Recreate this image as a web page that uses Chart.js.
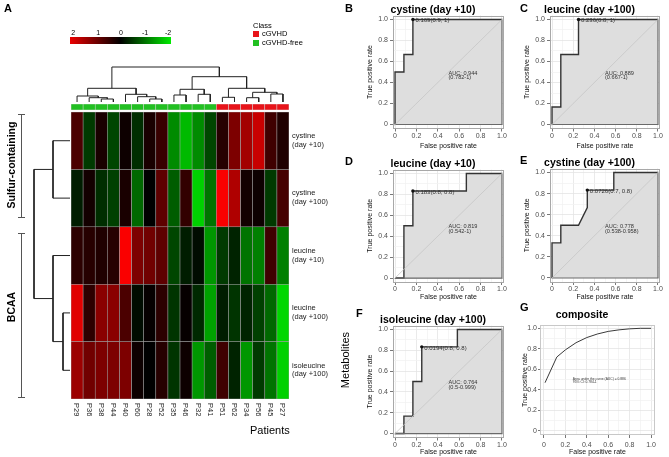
<!DOCTYPE html>
<html><head><meta charset="utf-8">
<script src="https://cdn.jsdelivr.net/npm/chart.js@4.4.1/dist/chart.umd.min.js"></script>
<style>
html,body{margin:0;padding:0;background:#fff;}
#fig{position:relative;width:669px;height:457px;overflow:hidden;font-family:'Liberation Sans',Arial,sans-serif;color:#000;background:#fff;}
#fig canvas{position:absolute;}
.t{position:absolute;white-space:nowrap;line-height:1;}
.pl{font-weight:bold;font-size:11px;}
.rot{transform:translate(-50%,-50%) rotate(-90deg);}
</style></head><body>
<div id="fig">
<canvas id="cHeat" width="669" height="457" style="left:0;top:0"></canvas>
<canvas id="cColDen" width="669" height="457" style="left:0;top:0"></canvas>
<canvas id="cRowDen" width="669" height="457" style="left:0;top:0"></canvas>
<canvas id="cB"></canvas><canvas id="cC"></canvas><canvas id="cD"></canvas>
<canvas id="cE"></canvas><canvas id="cF"></canvas><canvas id="cG"></canvas>

<div class="t pl" style="left:4px;top:3px">A</div>
<div class="t pl" style="left:345px;top:3px">B</div>
<div class="t pl" style="left:520px;top:3px">C</div>
<div class="t pl" style="left:345px;top:156px">D</div>
<div class="t pl" style="left:520px;top:155px">E</div>
<div class="t pl" style="left:356px;top:308px">F</div>
<div class="t pl" style="left:520px;top:302px">G</div>

<div id="keyBar" style="position:absolute;left:70px;top:36.5px;width:101px;height:7px;background:linear-gradient(to right,rgb(235,0,0),#000 50%,rgb(0,235,0));"></div>
<div id="keyLabels"></div>

<div class="t" style="left:253px;top:22px;font-size:7.5px;">Class</div>
<div style="position:absolute;left:253px;top:30.5px;width:6px;height:6px;background:#e8141a;"></div>
<div class="t" style="left:262px;top:30px;font-size:7.5px;">cGVHD</div>
<div style="position:absolute;left:253px;top:39.5px;width:6px;height:6px;background:#22c022;"></div>
<div class="t" style="left:262px;top:39px;font-size:7.5px;">cGVHD-free</div>

<div style="position:absolute;left:21px;top:114px;width:1px;height:104px;background:#555;"></div>
<div style="position:absolute;left:18px;top:114px;width:7px;height:1px;background:#555;"></div>
<div style="position:absolute;left:18px;top:217px;width:7px;height:1px;background:#555;"></div>
<div style="position:absolute;left:21px;top:233px;width:1px;height:165px;background:#555;"></div>
<div style="position:absolute;left:18px;top:233px;width:7px;height:1px;background:#555;"></div>
<div style="position:absolute;left:18px;top:397px;width:7px;height:1px;background:#555;"></div>
<div class="t rot" style="left:11px;top:165px;font-size:10.5px;font-weight:bold;">Sulfur-containing</div>
<div class="t rot" style="left:11px;top:307px;font-size:10.5px;font-weight:bold;">BCAA</div>
<div class="t" style="left:250px;top:425px;font-size:11px;">Patients</div>
<div class="t rot" style="left:345px;top:360px;font-size:11px;">Metabolites</div>
</div>
<script>
// ---------------- DATA ----------------
const patients = ['P29','P36','P38','P44','P40','P60','P28','P52','P35','P46','P32','P41','P51','P62','P34','P56','P45','P27'];
const patientClass = [0,0,0,0,0,0,0,0,0,0,0,0,1,1,1,1,1,1]; // 1 = cGVHD, 0 = cGVHD-free
const metaboliteNames = ['cystine','cystine','leucine','leucine','isoleucine'];
const metaboliteDays = ['(day +10)','(day +100)','(day +10)','(day +100)','(day +100)'];
const zCystineD10     = [0.6,-0.5,0.2,-0.6,0.1,-0.4,0.2,0.45,-1.2,-1.6,-1.2,-0.6,0.3,1.0,1.3,1.6,0.5,0.25];
const zCystineD100    = [-0.25,0.15,-0.4,-0.55,0.2,-0.9,0,0.75,-0.8,0.4,-1.8,-1.0,2.0,1.4,0.15,0.1,-0.5,0.55];
const zLeucineD10     = [0.35,0.3,0.25,0.3,2.0,1.0,0.9,0.75,-0.6,-0.25,-0.1,-1.3,-0.5,-0.3,-1.0,-1.1,0.5,-1.1];
const zLeucineD100    = [1.8,0.35,1.1,1.1,0.6,-0.1,0.05,0.35,-0.45,0.05,-0.35,-1.4,-0.25,-0.45,-0.3,-0.55,-0.9,-1.85];
const zIsoleucineD100 = [1.25,0.9,1.0,1.0,1.0,0.1,0,0.3,-0.45,0.1,-1.3,-0.8,0.5,-0.3,-1.3,-0.5,-1.0,-1.8];
const keyTicks = ['2','1','0','-1','-2'];
// column dendrogram (hclust style merges: negative = leaf, positive = earlier merge)
const colMergeLeft   = [-3,-2,-1,-7,-6,-5,3,-9,-11,8,-13,-15,-17,12,11,10,7];
const colMergeRight  = [-4,1,2,-8,4,5,6,-10,-12,9,-14,-16,-18,13,14,15,16];
const colMergeHeight = [3,4.3,6,3,5.3,7.7,13.7,7,7.7,12.7,4.7,4.3,8,9.7,13.7,25.3,35];
// row dendrogram
const rowMergeLeft   = [-1,-4,-3,1];
const rowMergeRight  = [-2,-5,2,3];
const rowMergeHeight = [17,7,17,36];
// ROC curves
const rocFprCystineD10 = [0,0,0.083,0.083,0.167,0.167,1];
const rocTprCystineD10 = [0,0.5,0.5,0.667,0.667,1,1];
const rocFprLeucineD100 = [0,0,0.083,0.083,0.25,0.25,1];
const rocTprLeucineD100 = [0,0.167,0.167,0.667,0.667,1,1];
const rocFprLeucineD10 = [0,0.083,0.083,0.167,0.167,0.667,0.667,1];
const rocTprLeucineD10 = [0,0,0.5,0.5,0.833,0.833,1,1];
const rocFprCystineD100 = [0,0,0.083,0.083,0.25,0.333,0.333,0.583,0.583,1];
const rocTprCystineD100 = [0,0.333,0.333,0.5,0.5,0.667,0.833,0.833,1,1];
const rocFprIsoleucineD100 = [0,0.083,0.083,0.167,0.167,0.25,0.25,0.583,0.583,1];
const rocTprIsoleucineD100 = [0,0,0.167,0.167,0.5,0.5,0.833,0.833,1,1];
const rocFprComposite = [0.01,0.12,0.2,0.3,0.4,0.5,0.6,0.7,0.8,0.9,1.0];
const rocTprComposite = [0.47,0.72,0.79,0.86,0.91,0.945,0.97,0.985,0.995,1,1];
const rocAxisTicks = [0,0.1,0.2,0.3,0.4,0.5,0.6,0.7,0.8,0.9,1];
// ---------------------------------------

Chart.defaults.font.family = "'Liberation Sans', Arial, sans-serif";
Chart.defaults.animation = false;

// colour key labels
(function(){
  const xs=[73.3,98.3,121,145,168];
  const host=document.getElementById('keyLabels');
  keyTicks.forEach((t,i)=>{
    const d=document.createElement('div');d.className='t';
    d.style.cssText=`left:${xs[i]}px;top:31.5px;font-size:7px;transform:translate(-50%,-50%);`;
    d.textContent=t;host.appendChild(d);
  });
})();

function cellColor(v){
  const t=Math.max(-2,Math.min(2,v))/2;
  if(t>=0) return `rgb(${Math.round(250*t)},0,0)`;
  return `rgb(0,${Math.round(-232*t)},0)`;
}

// ---------- heatmap ----------
const heatRows=[zCystineD10,zCystineD100,zLeucineD10,zLeucineD100,zIsoleucineD100];
const heatDatasets=heatRows.map((z,r)=>({
  data:z.map(()=>[r,r+1]), backgroundColor:z.map(cellColor),
  borderColor:'rgba(150,150,150,0.85)', borderWidth:0.6, borderSkipped:false,
  grouped:false, barPercentage:1, categoryPercentage:1
}));
heatDatasets.push({
  data:patientClass.map(()=>[-0.14,-0.035]),
  backgroundColor:patientClass.map(c=>c?'#e8141a':'#22c022'),
  borderColor:'rgba(210,210,210,0.9)', borderWidth:0.6, borderSkipped:false,
  grouped:false, barPercentage:1, categoryPercentage:1
});
const heatLabels={id:'heatLabels',afterDraw(chart){
  const ctx=chart.ctx,xs=chart.scales.x,ys=chart.scales.y,ca=chart.chartArea;
  ctx.save();ctx.fillStyle='#222';ctx.font="7.5px 'Liberation Sans'";ctx.textBaseline='middle';ctx.textAlign='left';
  metaboliteNames.forEach((n,r)=>{const y=ys.getPixelForValue(r+0.5);
    ctx.fillText(n,ca.right+3,y-4.8);ctx.fillText(metaboliteDays[r],ca.right+3,y+4);});
  patients.forEach((p,i)=>{ctx.save();ctx.translate(xs.getPixelForValue(i),403);ctx.rotate(Math.PI/2);
    ctx.fillText(p,0,0.5);ctx.restore();});
  ctx.restore();}};
new Chart(document.getElementById('cHeat'),{
  type:'bar',data:{labels:patients,datasets:heatDatasets},
  options:{responsive:false,layout:{padding:{left:71,right:380,top:104,bottom:58}},
    plugins:{legend:{display:false},tooltip:{enabled:false}},
    scales:{x:{display:false},y:{display:false,min:-0.14,max:5,reverse:true}}},
  plugins:[heatLabels]});

// ---------- dendrograms ----------
function dendroSegments(L,R,H){
  const pos=[],segs=[];
  const get=k=>k<0?{p:-k,h:0}:{p:pos[k-1],h:H[k-1]};
  for(let i=0;i<L.length;i++){const a=get(L[i]),b=get(R[i]);pos.push((a.p+b.p)/2);
    segs.push([[a.p,a.h],[a.p,H[i]],[b.p,H[i]],[b.p,b.h]]);}
  return segs;
}
const lineDs=pts=>({data:pts,showLine:true,borderColor:'#222',borderWidth:1,pointRadius:0,clip:false,fill:false});
new Chart(document.getElementById('cColDen'),{
  type:'scatter',
  data:{datasets:dendroSegments(colMergeLeft,colMergeRight,colMergeHeight).map(s=>lineDs(s.map(([p,h])=>({x:p,y:h}))))},
  options:{responsive:false,layout:{padding:{left:71,right:380,top:67,bottom:355}},
    plugins:{legend:{display:false},tooltip:{enabled:false}},
    scales:{x:{type:'linear',display:false,min:0.5,max:18.5},y:{type:'linear',display:false,min:0,max:35}}}});
new Chart(document.getElementById('cRowDen'),{
  type:'scatter',
  data:{datasets:dendroSegments(rowMergeLeft,rowMergeRight,rowMergeHeight).map(s=>lineDs(s.map(([p,h])=>({x:h,y:p-0.5}))))},
  options:{responsive:false,layout:{padding:{left:34,right:599,top:104,bottom:58}},
    plugins:{legend:{display:false},tooltip:{enabled:false}},
    scales:{x:{type:'linear',display:false,min:0,max:36,reverse:true},y:{type:'linear',display:false,min:-0.14,max:5,reverse:true}}}});

// ---------- ROC panels ----------
const isMajor=v=>Math.abs(v*5-Math.round(v*5))<1e-6;
const fmt=v=>Math.abs(v)<1e-9?'0':v.toFixed(1);
function makeRoc(id,g,s){
  const titleH=3+10.5+g.titlePB;
  const left=g.left-31, top=g.top-titleH, width=g.right+5-left, height=g.bottom+g.xAxisH-top;
  const cv=document.getElementById(id);
  cv.width=Math.round(width);cv.height=Math.round(height);
  cv.style.left=left+'px';cv.style.top=top+'px';
  const pts=s.fpr.map((x,i)=>({x,y:s.tpr[i]}));
  let datasets;
  if(s.composite){
    datasets=[{data:pts,borderColor:'#3a3a3a',borderWidth:1,pointRadius:0,fill:false}];
  } else {
    datasets=[
      {data:[{x:s.best[0],y:s.best[1]}],showLine:false,pointRadius:1.7,pointBackgroundColor:'#111',pointBorderWidth:0,fill:false},
      {data:[{x:-0.1,y:-0.1},{x:1.1,y:1.1}],borderColor:'#c6c6c6',borderWidth:0.8,pointRadius:0,fill:false},
      {data:[{x:1,y:1},{x:1,y:0},{x:0,y:0}],borderColor:'#6a6a6a',borderWidth:1.2,pointRadius:0,fill:false},
      {data:pts,borderColor:'#333',borderWidth:1.4,pointRadius:0,fill:'origin',backgroundColor:'#dedede'}
    ];
  }
  const gridColor=c=>isMajor(c.tick.value)?'#e4e4e4':'#f2f2f2';
  const tickColor=c=>isMajor(c.tick.value)?'#555':'rgba(0,0,0,0)';
  const setTicks=sc=>{sc.ticks=rocAxisTicks.map(v=>({value:v}));};
  const textPlug={id:'rocText',afterDatasetsDraw(chart){
    const ctx=chart.ctx,xs=chart.scales.x,ys=chart.scales.y;
    ctx.save();ctx.fillStyle='#333';ctx.textBaseline='middle';ctx.textAlign='left';
    if(s.bestLabel){ctx.font="6px 'Liberation Sans'";
      ctx.fillText(s.bestLabel,xs.getPixelForValue(s.best[0])+2.5,ys.getPixelForValue(s.best[1])+1.2);}
    ctx.font=s.composite?"3.3px 'Liberation Sans'":"5.6px 'Liberation Sans'";
    ctx.fillText(s.auc[0],xs.getPixelForValue(s.aucPos[0]),ys.getPixelForValue(s.aucPos[1]));
    ctx.fillText(s.auc[1],xs.getPixelForValue(s.aucPos[0]),ys.getPixelForValue(s.aucPos[2]));
    ctx.restore();},
    afterDraw(chart){const ctx=chart.ctx,a=chart.chartArea;ctx.save();ctx.strokeStyle=s.composite?'#c8c8c8':'#a8a8a8';ctx.lineWidth=1;
      ctx.strokeRect(Math.round(a.left)+0.5,Math.round(a.top)+0.5,Math.round(a.right-a.left)-1,Math.round(a.bottom-a.top)-1);ctx.restore();}};
  new Chart(cv,{type:'line',data:{datasets},
    options:{responsive:false,layout:{padding:{left:0,right:5,top:0,bottom:0}},
      plugins:{legend:{display:false},tooltip:{enabled:false},
        title:{display:true,text:s.title,color:'#000',font:{size:10.5,weight:'bold',lineHeight:1},padding:{top:3,bottom:g.titlePB}}},
      scales:{
        x:{type:'linear',min:g.xmin,max:g.xmax,afterBuildTicks:setTicks,afterFit:sc=>{sc.height=g.xAxisH;},
          ticks:{autoSkip:false,maxRotation:0,minRotation:0,font:{size:7},color:'#4d4d4d',padding:g.xtickPad,callback:v=>isMajor(v)?fmt(v):''},
          grid:{color:gridColor,tickColor:tickColor,tickLength:g.xtickLen,lineWidth:0.8},border:{display:false},
          title:{display:true,text:'False positive rate',color:'#111',font:{size:7},padding:{top:0,bottom:1}}},
        y:{type:'linear',min:g.ymin,max:g.ymax,afterBuildTicks:setTicks,afterFit:sc=>{sc.width=31;},
          ticks:{autoSkip:false,font:{size:7},color:'#4d4d4d',padding:g.ytickPad,callback:v=>isMajor(v)?fmt(v):''},
          grid:{color:gridColor,tickColor:tickColor,tickLength:g.ytickLen,lineWidth:0.8},border:{display:false},
          title:{display:true,text:'True positive rate',color:'#111',font:{size:7},padding:{top:g.ytitlePT,bottom:0}}}
      }},
    plugins:[textPlug]});
}
const base={xmin:-0.019,xmax:1.019,ymin:-0.038,ymax:1.038,titlePB:0,xtickLen:3,xtickPad:0,ytickLen:3,ytickPad:2,ytitlePT:3.8};
makeRoc('cB',{...base,left:393,right:504,top:15,bottom:128,xAxisH:22.5},
  {title:'cystine (day +10)',fpr:rocFprCystineD10,tpr:rocTprCystineD10,best:[0.167,1],bestLabel:'0.169(0.9, 1)',auc:['AUC: 0.944','(0.782-1)'],aucPos:[0.5,0.49,0.445]});
makeRoc('cC',{...base,left:550,right:660,top:15,bottom:128,xAxisH:22.5},
  {title:'leucine (day +100)',fpr:rocFprLeucineD100,tpr:rocTprLeucineD100,best:[0.25,1],bestLabel:'0.236(0.8, 1)',auc:['AUC: 0.889','(0.667-1)'],aucPos:[0.5,0.49,0.445]});
makeRoc('cD',{...base,left:393,right:504,top:169,bottom:281.5,xAxisH:20},
  {title:'leucine (day +10)',fpr:rocFprLeucineD10,tpr:rocTprLeucineD10,best:[0.167,0.833],bestLabel:'0.183(0.8, 0.8)',auc:['AUC: 0.819','(0.542-1)'],aucPos:[0.5,0.49,0.445]});
makeRoc('cE',{...base,left:550,right:660,top:168,bottom:281,xAxisH:20},
  {title:'cystine (day +100)',fpr:rocFprCystineD100,tpr:rocTprCystineD100,best:[0.333,0.833],bestLabel:'0.0726(0.7, 0.8)',auc:['AUC: 0.778','(0.538-0.958)'],aucPos:[0.5,0.49,0.445]});
makeRoc('cF',{...base,left:393,right:504,top:325,bottom:437,xAxisH:19.5},
  {title:'isoleucine (day +100)',fpr:rocFprIsoleucineD100,tpr:rocTprIsoleucineD100,best:[0.25,0.833],bestLabel:'0.0194(0.8, 0.8)',auc:['AUC: 0.764','(0.5-0.999)'],aucPos:[0.5,0.49,0.445]});
makeRoc('cG',{xmin:-0.037,xmax:1.037,ymin:-0.04,ymax:1.03,titlePB:4.75,xtickLen:3,xtickPad:2.5,ytickLen:2,ytickPad:1,ytitlePT:11.8,left:540,right:655,top:325,bottom:435,xAxisH:22},
  {composite:true,title:'composite',fpr:rocFprComposite,tpr:rocTprComposite,auc:['Area under the curve (AUC) = 0.886','95% CI: 0.784-1'],aucPos:[0.27,0.503,0.477]});
</script>
</body></html>
